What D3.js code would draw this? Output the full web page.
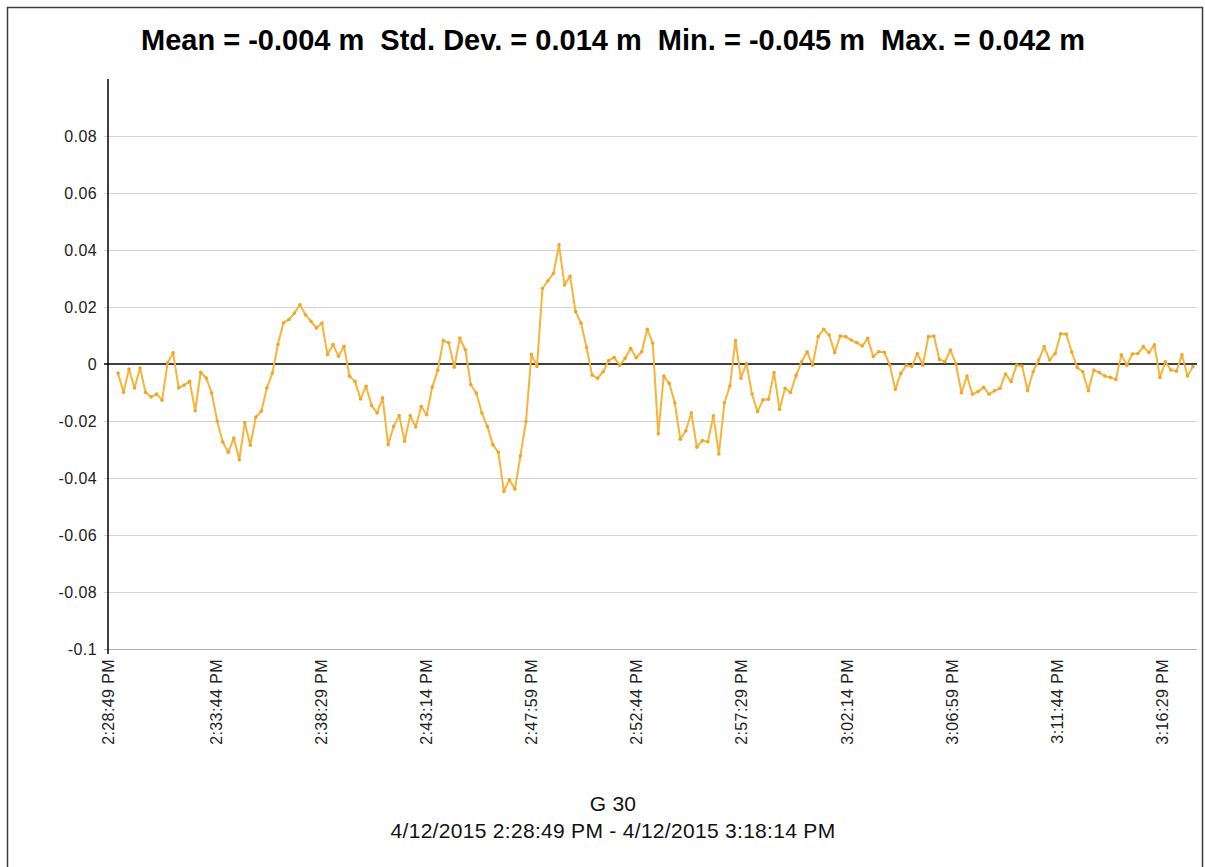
<!DOCTYPE html>
<html>
<head>
<meta charset="utf-8">
<script src="https://cdn.jsdelivr.net/npm/d3@7"></script>
<style>
body { margin: 0; background: #fff; }
text { font-family: "Liberation Sans", Arial, sans-serif; }
</style>
</head>
<body>
<script>
var WIDTH = 1205;
var HEIGHT = 867;
var PLOT_LEFT = 108, PLOT_RIGHT = 1197, PLOT_TOP = 79, PLOT_BOTTOM = 649;
var FIRST_POINT_X = 118, LAST_POINT_X = 1193;

// deviation values (m), one per sample
var values = [
    -0.0032, -0.0099, -0.0018, -0.0084, -0.0014, -0.0099, -0.0116, -0.0105, -0.0127, 0.0004,
    0.0039, -0.0084, -0.0074, -0.0061, -0.0164, -0.0029, -0.0049, -0.0102, -0.0201, -0.0274,
    -0.0310, -0.0260, -0.0336, -0.0205, -0.0285, -0.0186, -0.0166, -0.0084, -0.0032, 0.0068,
    0.0144, 0.0156, 0.0179, 0.0208, 0.0173, 0.0150, 0.0126, 0.0144, 0.0033, 0.0068,
    0.0027, 0.0062, -0.0043, -0.0061, -0.0123, -0.0078, -0.0146, -0.0172, -0.0119, -0.0283,
    -0.0219, -0.0181, -0.0271, -0.0181, -0.0221, -0.0149, -0.0178, -0.0081, -0.0022, 0.0082,
    0.0074, -0.0011, 0.0091, 0.0050, -0.0073, -0.0102, -0.0172, -0.0219, -0.0283, -0.0310,
    -0.0447, -0.0406, -0.0439, -0.0322, -0.0202, 0.0034, -0.0009, 0.0265, 0.0292, 0.0318,
    0.0418, 0.0277, 0.0309, 0.0184, 0.0143, 0.0058, -0.0039, -0.0050, -0.0027, 0.0012,
    0.0023, -0.0004, 0.0020, 0.0055, 0.0022, 0.0043, 0.0122, 0.0073, -0.0245, -0.0042,
    -0.0068, -0.0136, -0.0264, -0.0234, -0.0171, -0.0292, -0.0269, -0.0273, -0.0182, -0.0316,
    -0.0136, -0.0077, 0.0082, -0.0050, 0.0002, -0.0105, -0.0167, -0.0126, -0.0124, -0.0030,
    -0.0159, -0.0085, -0.0100, -0.0040, 0.0008, 0.0043, -0.0004, 0.0096, 0.0122, 0.0102,
    0.0040, 0.0098, 0.0096, 0.0084, 0.0075, 0.0063, 0.0090, 0.0026, 0.0043, 0.0041,
    -0.0004, -0.0089, -0.0033, -0.0004, -0.0009, 0.0037, -0.0004, 0.0096, 0.0098, 0.0016,
    0.0008, 0.0049, 0.0000, -0.0101, -0.0042, -0.0106, -0.0097, -0.0082, -0.0106, -0.0094,
    -0.0085, -0.0035, -0.0062, -0.0004, -0.0007, -0.0094, -0.0027, 0.0014, 0.0061, 0.0014,
    0.0037, 0.0106, 0.0105, 0.0042, -0.0012, -0.0027, -0.0094, -0.0021, -0.0030, -0.0042,
    -0.0047, -0.0054, 0.0032, -0.0004, 0.0035, 0.0037, 0.0061, 0.0040, 0.0067, -0.0047,
    0.0008, -0.0021, -0.0025, 0.0032, -0.0042, -0.0009
];

var yTicks = [-0.1, -0.08, -0.06, -0.04, -0.02, 0, 0.02, 0.04, 0.06, 0.08];
var yTickLabels = ['-0.1', '-0.08', '-0.06', '-0.04', '-0.02', '0', '0.02', '0.04', '0.06', '0.08'];

var xTickLabels = ['2:28:49 PM', '2:33:44 PM', '2:38:29 PM', '2:43:14 PM', '2:47:59 PM', '2:52:44 PM',
    '2:57:29 PM', '3:02:14 PM', '3:06:59 PM', '3:11:44 PM', '3:16:29 PM'];

var titleText = 'Mean = -0.004 m  Std. Dev. = 0.014 m  Min. = -0.045 m  Max. = 0.042 m';
var seriesName = 'G 30';
var rangeText = '4/12/2015 2:28:49 PM - 4/12/2015 3:18:14 PM';

var LINE_COLOR = '#f8b438';

var svg = d3.select('body').append('svg')
    .attr('width', WIDTH)
    .attr('height', HEIGHT);

svg.append('rect')
    .attr('width', WIDTH).attr('height', HEIGHT)
    .attr('fill', '#fff');

// window frame
svg.append('rect')
    .attr('x', 7.5).attr('y', 7.5)
    .attr('width', 1195).attr('height', 900)
    .attr('fill', 'none')
    .attr('stroke', '#3a3a3a')
    .attr('stroke-width', 1.5);

var y = d3.scaleLinear()
    .domain([-0.1, 0.1])
    .range([PLOT_BOTTOM, PLOT_TOP]);

// samples are drawn by their index
var x = d3.scaleLinear()
    .domain([0, values.length - 1])
    .range([FIRST_POINT_X, LAST_POINT_X]);

// axis labels are placed by clock time
var parseTime = d3.timeParse('%I:%M:%S %p');
var tickTimes = xTickLabels.map(parseTime);
var xTime = d3.scaleTime()
    .domain([tickTimes[0], tickTimes[tickTimes.length - 1]])
    .range([108, 1162]);

// gridlines
svg.append('g')
    .selectAll('line')
    .data(yTicks.filter(function (d) { return d !== 0; }))
    .enter()
    .append('line')
    .attr('x1', PLOT_LEFT - 4)
    .attr('x2', PLOT_RIGHT)
    .attr('y1', function (d) { return Math.round(y(d)) + 0.5; })
    .attr('y2', function (d) { return Math.round(y(d)) + 0.5; })
    .attr('stroke', function (d) { return d === -0.1 ? '#b0b0b0' : '#d3d3d3'; })
    .attr('stroke-width', 1);

// zero line
svg.append('line')
    .attr('x1', PLOT_LEFT - 4)
    .attr('x2', PLOT_RIGHT)
    .attr('y1', y(0))
    .attr('y2', y(0))
    .attr('stroke', '#000')
    .attr('stroke-width', 1.5);

// y axis line
svg.append('line')
    .attr('x1', PLOT_LEFT)
    .attr('x2', PLOT_LEFT)
    .attr('y1', PLOT_TOP)
    .attr('y2', PLOT_BOTTOM + 5)
    .attr('stroke', '#000')
    .attr('stroke-width', 1.5);

svg.append('g')
    .selectAll('text')
    .data(yTicks)
    .enter()
    .append('text')
    .attr('x', PLOT_LEFT - 11)
    .attr('y', function (d) { return y(d); })
    .attr('dy', '0.35em')
    .attr('text-anchor', 'end')
    .attr('font-size', 16)
    .attr('letter-spacing', 0.4)
    .attr('fill', '#222')
    .text(function (d, i) { return yTickLabels[i]; });

svg.append('g')
    .selectAll('text')
    .data(tickTimes)
    .enter()
    .append('text')
    .attr('transform', function (d) { return 'translate(' + xTime(d) + ',' + (PLOT_BOTTOM + 10) + ') rotate(-90)'; })
    .attr('dy', '0.35em')
    .attr('text-anchor', 'end')
    .attr('font-size', 16)
    .attr('letter-spacing', 0.4)
    .attr('fill', '#222')
    .text(function (d, i) { return xTickLabels[i]; });

// series
var line = d3.line()
    .x(function (d, i) { return x(i); })
    .y(function (d) { return y(d); });

svg.append('path')
    .datum(values)
    .attr('d', line)
    .attr('fill', 'none')
    .attr('stroke', LINE_COLOR)
    .attr('stroke-width', 2)
    .attr('stroke-linejoin', 'round');

svg.append('g')
    .selectAll('circle')
    .data(values)
    .enter()
    .append('circle')
    .attr('cx', function (d, i) { return x(i); })
    .attr('cy', function (d) { return y(d); })
    .attr('r', 1.8)
    .attr('fill', '#eea62a');

// title and bottom captions
svg.append('text')
    .attr('x', 613)
    .attr('y', 50)
    .attr('text-anchor', 'middle')
    .attr('font-size', 29)
    .attr('font-weight', 'bold')
    .style('white-space', 'pre')
    .attr('fill', '#000')
    .text(titleText);

svg.append('text')
    .attr('x', 613)
    .attr('y', 811)
    .attr('text-anchor', 'middle')
    .attr('font-size', 21)
    .attr('letter-spacing', 0.3)
    .attr('fill', '#111')
    .text(seriesName);

svg.append('text')
    .attr('x', 613)
    .attr('y', 838)
    .attr('text-anchor', 'middle')
    .attr('font-size', 21)
    .attr('letter-spacing', 0.3)
    .attr('fill', '#111')
    .text(rangeText);
</script>
</body>
</html>
